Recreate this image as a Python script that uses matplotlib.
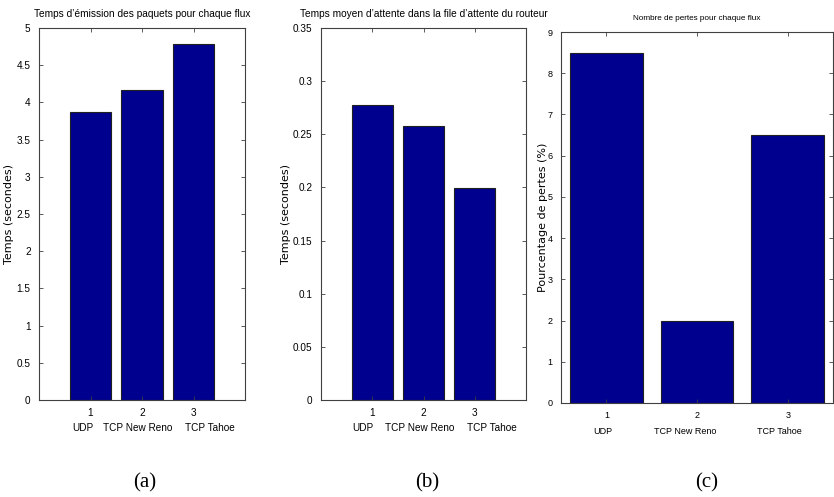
import matplotlib
matplotlib.use("Agg")
import matplotlib.pyplot as plt

plt.rcParams["font.family"] = ["Liberation Sans", "DejaVu Sans"]

# --- data ---
flows = ["UDP", "TCP New Reno", "TCP Tahoe"]
flow_ids = [1, 2, 3]
emission_time = [3.87, 4.17, 4.78]        # (a) seconds
mean_wait_time = [0.278, 0.258, 0.199]    # (b) seconds
loss_percent = [8.5, 2.0, 6.5]            # (c) %

BAR_COLOR = "#00008F"
W, H = 834, 497


def px_axes(fig, left, right, top, bottom):
    return fig.add_axes([left / W, (H - bottom) / H, (right - left) / W, (bottom - top) / H])


def matlab_bar(ax, values, xlim, ylim, yticks, title, ylabel, ylabel_x, name_dx,
               fs=7.2, title_fs=7.3, title_pad=8):
    ax.bar(flow_ids, values, width=0.8, color=BAR_COLOR, edgecolor="#202020", linewidth=0.8)
    ax.set_xlim(*xlim)
    ax.set_ylim(*ylim)
    ax.set_yticks(yticks)
    ax.set_yticklabels([f"{t:g}" for t in yticks], fontsize=fs)
    ax.set_xticks(flow_ids)
    ax.set_xticklabels([str(i) for i in flow_ids], fontsize=fs)
    ax.tick_params(direction="in", top=True, right=True, length=3, width=0.6, color="#404040", pad=6)
    # flow names on a second line under the tick numbers
    for fid, name, dx in zip(flow_ids, flows, name_dx):
        ax.annotate(name, xy=(fid, 0), xycoords=("data", "axes fraction"),
                    xytext=(dx, -28), textcoords="offset pixels",
                    ha="center", va="center", fontsize=fs)
    for s in ax.spines.values():
        s.set_color("#404040")
        s.set_linewidth(0.8)
    ax.set_title(title, fontsize=title_fs, pad=title_pad)
    ax.set_ylabel(ylabel, fontsize=8, family="DejaVu Sans")
    ax.yaxis.set_label_coords(ylabel_x, 0.5)


fig = plt.figure(figsize=(W / 100, H / 100), dpi=100)

ax_a = px_axes(fig, 39, 245, 28, 400)
matlab_bar(ax_a, emission_time, (0, 4), (0, 5), [0, 0.5, 1, 1.5, 2, 2.5, 3, 3.5, 4, 4.5, 5],
           "Temps d\u2019émission des paquets pour chaque flux", "Temps (secondes)",
           ylabel_x=(14 - 39) / 206, name_dx=[-8, -4, 16])

ax_b = px_axes(fig, 321, 526, 28, 400)
matlab_bar(ax_b, mean_wait_time, (0, 4), (0, 0.35), [0, 0.05, 0.1, 0.15, 0.2, 0.25, 0.3, 0.35],
           "Temps moyen d\u2019attente dans la file d\u2019attente du routeur", "Temps (secondes)",
           ylabel_x=(291 - 321) / 205, name_dx=[-9, -4, 17])

ax_c = px_axes(fig, 561, 833, 32, 403)
matlab_bar(ax_c, loss_percent, (0.5, 3.5), (0, 9), list(range(10)),
           "Nombre de pertes pour chaque flux", "Pourcentage de pertes (%)",
           ylabel_x=(548 - 561) / 272, name_dx=[-4, -12, -8],
           fs=6.5, title_fs=5.9, title_pad=9)

# panel captions
for x, lab in [(145, "(a)"), (427, "(b)"), (707, "(c)")]:
    fig.text(x / W, 1 - 483 / H, lab, family="Liberation Serif", fontsize=15, ha="center", va="center")

fig.savefig("out.png", dpi=100)
